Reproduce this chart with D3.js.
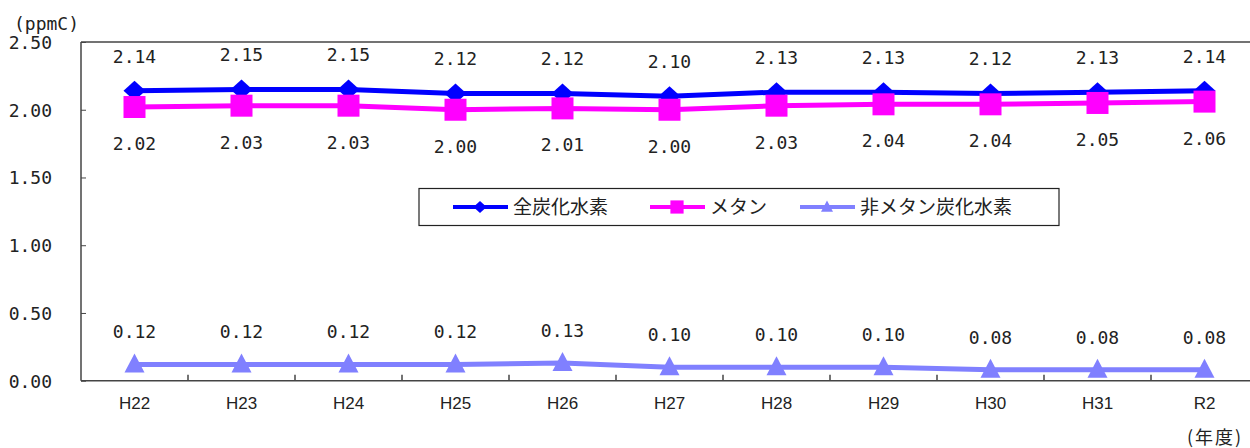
<!DOCTYPE html>
<html><head><meta charset="utf-8">
<script src="https://cdn.jsdelivr.net/npm/d3@7"></script>
<style>
body{margin:0;background:#fff;}
text{font-family:"DejaVu Sans Mono",monospace;fill:#222;}
</style></head>
<body><svg id="c" width="1250" height="448"></svg>
<script>
const categories = ["H22","H23","H24","H25","H26","H27","H28","H29","H30","H31","R2"];
const totalHC = [2.14,2.15,2.15,2.12,2.12,2.10,2.13,2.13,2.12,2.13,2.14];
const methane = [2.02,2.03,2.03,2.00,2.01,2.00,2.03,2.04,2.04,2.05,2.06];
const nonMethane = [0.12,0.12,0.12,0.12,0.13,0.10,0.10,0.10,0.08,0.08,0.08];
const yTicks = [0,0.5,1.0,1.5,2.0,2.5];
const seriesNames = ["全炭化水素","メタン","非メタン炭化水素"];

const svg = d3.select("#c");
const L = 81, T = 42, B = 380.7, R = 81 + 107*11;
const x = d3.scaleBand().domain(categories).range([L, R]);
const y = d3.scaleLinear().domain([0, 2.5]).range([B, T]);

// frame
svg.append("line").attr("x1",L).attr("x2",1250).attr("y1",T).attr("y2",T).attr("stroke","#444").attr("stroke-width",1.5);
svg.append("line").attr("x1",L).attr("x2",L).attr("y1",T).attr("y2",B).attr("stroke","#444").attr("stroke-width",1.5);
svg.append("line").attr("x1",L).attr("x2",1250).attr("y1",B).attr("y2",B).attr("stroke","#444").attr("stroke-width",1.5);

// y axis
const yAxis = d3.axisLeft(y).tickValues(yTicks).tickFormat(d3.format(".2f")).tickSizeInner(-5).tickSizeOuter(0).tickPadding(29);
const ga = svg.append("g").attr("transform",`translate(${L},0)`).call(yAxis);
ga.select(".domain").remove();
ga.selectAll(".tick line").attr("stroke","#444");
ga.selectAll(".tick text").style("font-family","'DejaVu Sans Mono',monospace").style("font-size","18px").attr("fill","#222").attr("dy","0.35em");

// x axis
const xAxis = d3.axisBottom(x).tickSize(0).tickPadding(16);
const gx = svg.append("g").attr("transform",`translate(0,${B})`).call(xAxis);
gx.select(".domain").remove();
gx.selectAll(".tick text").style("font-family","'Liberation Sans',sans-serif").style("font-size","17px").attr("fill","#222");
categories.slice(1).forEach(c => {
  svg.append("line").attr("x1",x(c)).attr("x2",x(c)).attr("y1",B).attr("y2",B-6).attr("stroke","#444").attr("stroke-width",1.5);
});

svg.append("text").attr("x",14).attr("y",30).style("font-size","18px").text("(ppmC)");
svg.append("text").attr("x",1187).attr("y",444).style("font-family","'Noto Sans CJK JP'").style("font-size","18px").style("letter-spacing","2px").text("(年度)");

const cx = c => x(c) + x.bandwidth()/2;
const series = [
  {vals: totalHC, color:"#0000ff", marker:"diamond", labelDy:-28, name:seriesNames[0]},
  {vals: methane, color:"#ff00ff", marker:"square", labelDy:43, name:seriesNames[1]},
  {vals: nonMethane, color:"#8080ff", marker:"triangle", labelDy:-26, name:seriesNames[2]}
];
function markerPath(type){
  if(type==="diamond") return "M-11,0L0,-10L11,0L0,10Z";
  if(type==="square") return "M-11,-11H11V11H-11Z";
  return "M0,-11L10,8H-10Z";
}
const line = d3.line().x((d,i)=>cx(categories[i])).y(d=>y(d));
series.forEach(s => {
  svg.append("path").attr("d", line(s.vals)).attr("fill","none").attr("stroke",s.color).attr("stroke-width",5);
  s.vals.forEach((v,i) => {
    svg.append("path").attr("d",markerPath(s.marker)).attr("transform",`translate(${cx(categories[i])},${y(v)})`).attr("fill",s.color);
    svg.append("text").attr("x",cx(categories[i])).attr("y",y(v)+s.labelDy).attr("text-anchor","middle").style("font-size","18px").text(v.toFixed(2));
  });
});

// legend
const lg = svg.append("g");
lg.append("rect").attr("x",419).attr("y",188.5).attr("width",640).attr("height",37).attr("fill","#fff").attr("stroke","#222").attr("stroke-width",1.2);
const legX = [453, 650, 800];
series.forEach((s,i) => {
  const ly = 207;
  lg.append("line").attr("x1",legX[i]).attr("x2",legX[i]+55).attr("y1",ly).attr("y2",ly).attr("stroke",s.color).attr("stroke-width",4);
  lg.append("path").attr("d",markerPath(s.marker)).attr("transform",`translate(${legX[i]+27},${ly}) scale(0.6)`).attr("fill",s.color);
  lg.append("text").attr("x",legX[i]+60).attr("y",ly+7).style("font-family","'Noto Sans CJK JP'").style("font-size","19px").text(s.name);
});
</script></body></html>
